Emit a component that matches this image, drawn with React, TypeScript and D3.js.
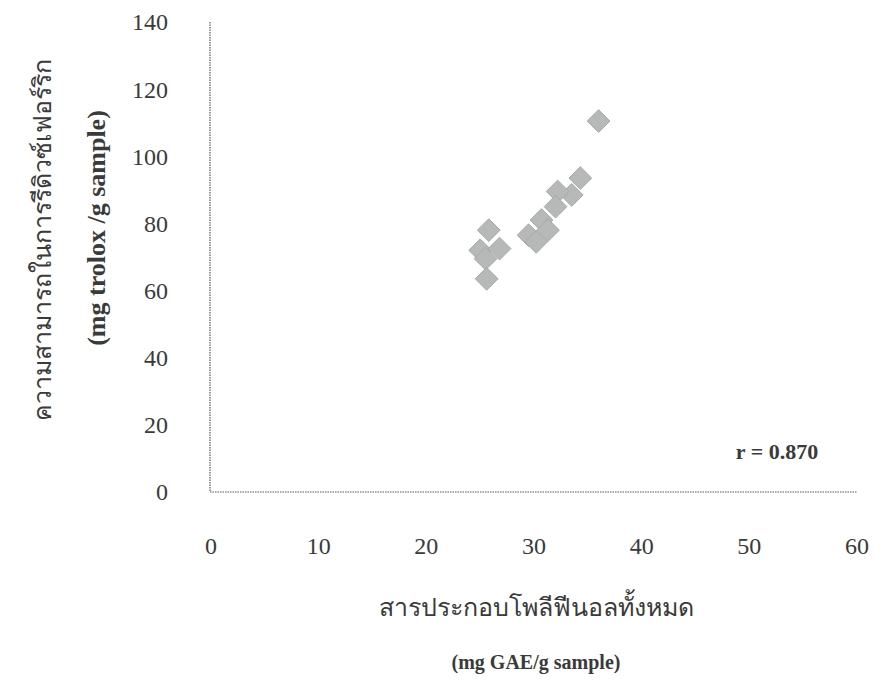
import React from "react";
import * as d3 from "d3";

const phenolX = [36.0, 34.3, 33.5, 32.2, 32.0, 30.7, 31.3, 29.5, 30.2, 25.8, 25.0, 26.8, 25.5, 25.6];
const ferricY = [110.5, 93.5, 88.5, 89.5, 85.0, 81.0, 78.0, 76.5, 74.5, 78.0, 72.0, 72.5, 69.5, 63.5];
const xTicks = [0, 10, 20, 30, 40, 50, 60];
const yTicks = [0, 20, 40, 60, 80, 100, 120, 140];

const W = 885;
const H = 698;

export default function App() {
  const x = d3.scaleLinear().domain([0, 60]).range([211, 857]);
  const y = d3.scaleLinear().domain([0, 140]).range([492, 22]);
  const diamond = d3.symbol().type(d3.symbolDiamond2).size(330)();
  const pts = phenolX.map((v, i) => ({ x: v, y: ferricY[i] }));
  const serif = "'Liberation Serif', 'Times New Roman', serif";
  const textCol = "#3a3a3a";
  return (
    <svg width={W} height={H} style={{ position: "absolute", left: 0, top: 0, background: "#fff" }}>
      <rect x={0} y={0} width={W} height={H} fill="#fff" />
      <line x1={x(0) - 1} x2={x(0) - 1} y1={y(140)} y2={y(0)} stroke="#555" strokeWidth={1.2} strokeDasharray="1.5,1" />
      <line x1={x(0) - 1} x2={x(60)} y1={y(0)} y2={y(0)} stroke="#555" strokeWidth={1.2} strokeDasharray="1.5,1" />
      {yTicks.map((t) => (
        <text key={"y" + t} x={168} y={y(t)} dy="0.35em" textAnchor="end" fontFamily={serif} fontSize={24} fill={textCol}>
          {t}
        </text>
      ))}
      {xTicks.map((t) => (
        <text key={"x" + t} x={x(t)} y={546} dy="0.35em" textAnchor="middle" fontFamily={serif} fontSize={24} fill={textCol}>
          {t}
        </text>
      ))}
      {pts.map((p, i) => (
        <path key={i} d={diamond} transform={`translate(${x(p.x)},${y(p.y)})`} fill="#b7b9b9" stroke="#a6a8a8" strokeWidth={1} />
      ))}
      <text x={777} y={451} dy="0.35em" textAnchor="middle" fontFamily={serif} fontWeight="bold" fontSize={22} fill={textCol}>
        r = 0.870
      </text>
      <text transform={`translate(42,240) rotate(-90)`} textAnchor="middle" dy="0.35em" fontFamily={serif} fontSize={25} fill={textCol}>
        ความสามารถในการรีดิวซ์เฟอร์ริก
      </text>
      <text transform={`translate(96,228) rotate(-90)`} textAnchor="middle" dy="0.35em" fontFamily={serif} fontWeight="bold" fontSize={26} fill={textCol}>
        (mg trolox /g sample)
      </text>
      <text x={536} y={607} dy="0.35em" textAnchor="middle" fontFamily={serif} fontSize={25} fill={textCol}>
        สารประกอบโพลีฟีนอลทั้งหมด
      </text>
      <text x={536} y={662} dy="0.35em" textAnchor="middle" fontFamily={serif} fontWeight="bold" fontSize={20} fill={textCol}>
        (mg GAE/g sample)
      </text>
    </svg>
  );
}
